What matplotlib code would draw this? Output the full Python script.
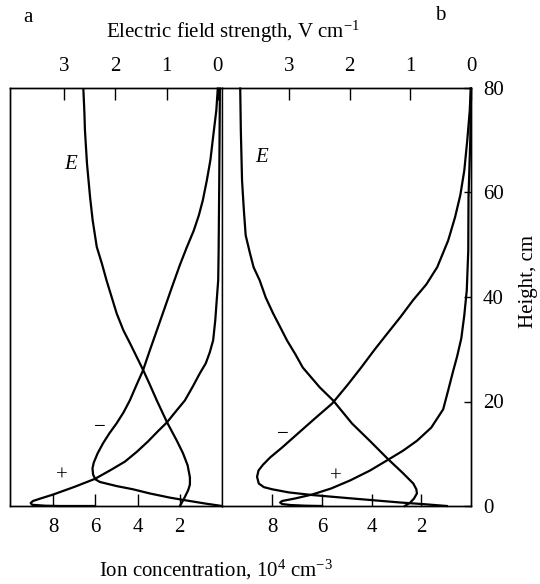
import matplotlib.pyplot as plt

plt.rcParams['font.family'] = 'Liberation Serif'
plt.rcParams['mathtext.fontset'] = 'custom'
plt.rcParams['mathtext.rm'] = 'Liberation Serif'
plt.rcParams['mathtext.it'] = 'Liberation Serif:italic'
plt.rcParams['font.size'] = 15

# panel a -- field strength (V/cm) vs height (cm)
a_field = [2.62, 2.60, 2.59, 2.57, 2.55, 2.52, 2.49, 2.44, 2.36, 2.26, 2.17, 2.07, 1.97, 1.84, 1.71, 1.58,
           1.45, 1.32, 1.19, 0.99, 0.80, 0.68, 0.59, 0.545, 0.545, 0.58, 0.66, 0.74]
a_field_h = [79.6, 75.1, 71.9, 68.7, 65.5, 62.3, 59.1, 54.7, 49.6, 46.4, 43.2, 40.0, 36.8, 33.6, 31.1, 28.5,
             25.9, 23.1, 20.2, 16.0, 12.5, 10.1, 7.8, 5.5, 4.1, 3.0, 1.4, 0.0]
# panel a -- negative ions (1e4 cm^-3)
a_neg = [0.20, 0.27, 0.44, 0.55, 0.72, 0.91, 1.10, 1.34, 1.67, 2.00, 2.38, 2.76, 3.09, 3.42, 3.75, 4.06,
         4.37, 4.67, 5.00, 5.34, 5.64, 5.90, 6.08, 6.14, 6.11, 6.00, 5.79, 4.98, 4.22, 3.42, 2.47, 1.67, 0.81, 0.0]
a_neg_h = [79.9, 75.7, 70.0, 66.2, 62.3, 58.5, 55.6, 52.7, 49.5, 46.1, 41.8, 37.4, 33.6, 29.8, 25.9, 23.1,
           20.2, 17.9, 15.8, 13.9, 12.0, 10.05, 8.3, 7.2, 6.0, 5.1, 4.6, 3.8, 3.2, 2.4, 1.6, 1.05, 0.48, 0.0]
# panel a -- positive ions
a_pos = [0.10, 0.13, 0.16, 0.18, 0.25, 0.32, 0.42, 0.58, 0.77, 1.05, 1.38, 1.76, 2.19, 2.61, 3.04, 3.51,
         4.03, 4.60, 5.27, 6.02, 6.97, 8.00, 8.63, 8.96, 9.07, 9.00, 8.39, 7.68, 6.02]
a_pos_h = [79.9, 62.3, 48.9, 43.2, 39.4, 35.5, 31.7, 29.4, 27.3, 25.4, 22.9, 20.2, 18.1, 16.0, 14.3, 12.35,
           10.4, 8.5, 6.9, 5.2, 3.7, 2.2, 1.4, 0.96, 0.57, 0.23, 0.06, 0.0, 0.0]

# panel b
b_field = [3.80, 3.79, 3.77, 3.74, 3.71, 3.64, 3.58, 3.48, 3.38, 3.26, 3.14, 3.03, 2.89, 2.77, 2.63, 2.49,
           2.27, 1.96, 1.66, 1.36, 1.13, 0.95, 0.90, 0.89, 0.94, 1.00, 1.09]
b_field_h = [79.9, 71.9, 62.3, 56.6, 51.8, 48.4, 45.7, 43.2, 39.9, 36.9, 34.2, 31.7, 29.0, 26.5, 24.6, 22.7,
             20.2, 15.8, 12.4, 8.9, 6.4, 4.3, 3.2, 2.4, 1.4, 0.67, 0.0]
b_neg = [0.01, 0.05, 0.15, 0.27, 0.43, 0.64, 0.92, 1.36, 1.80, 2.33, 2.85, 3.37, 3.90, 4.42, 4.98, 5.59,
         6.27, 6.96, 7.60, 8.08, 8.37, 8.55, 8.61, 8.54, 8.33, 8.00, 7.33, 6.39, 4.78, 2.85, 1.84, 0.97]
b_neg_h = [79.9, 75.7, 70.0, 64.2, 59.5, 55.3, 50.8, 45.7, 42.4, 39.4, 36.1, 33.0, 29.8, 26.5, 23.1, 19.6,
           16.8, 13.9, 11.2, 9.3, 7.9, 6.8, 5.6, 4.3, 3.6, 3.2, 2.6, 2.1, 1.44, 0.67, 0.33, 0.0]
b_pos = [0.0, 0.03, 0.10, 0.11, 0.17, 0.27, 0.39, 0.56, 0.72, 0.92, 1.12, 1.60, 2.17, 2.73, 3.32, 4.06,
         4.86, 5.63, 6.39, 7.08, 7.60, 7.68, 7.60, 7.28, 6.67, 5.99]
b_pos_h = [79.9, 70.0, 59.1, 48.9, 41.3, 36.5, 32.1, 28.6, 25.8, 22.1, 18.5, 15.0, 12.5, 10.6, 8.9, 6.8,
           4.9, 3.35, 2.2, 1.44, 0.96, 0.67, 0.38, 0.19, 0.06, 0.0]

field_ticks = [3, 2, 1, 0]
conc_ticks = [8, 6, 4, 2]
height_ticks = [0, 20, 40, 60, 80]

W, H = 540, 584
fig = plt.figure(figsize=(W / 100, H / 100), dpi=100)
axA = fig.add_axes([10 / W, 78 / H, 212 / W, 418 / H])
axB = fig.add_axes([222 / W, 78 / H, 249 / W, 418 / H])

lw = 1.6
for ax, xl in ((axA, (10.05, 0)), (axB, (10.02, 0))):
    ax.set_xlim(*xl)
    ax.set_ylim(0, 80)
    ax.set_xticks(conc_ticks)
    ax.tick_params(axis='x', direction='in', length=8.6, width=1, pad=8.5, labelsize=15)
    for s in ax.spines.values():
        s.set_linewidth(1.0)

axA.set_yticks([])
axB.spines['left'].set_visible(False)
axB.yaxis.tick_right()
axB.set_yticks(height_ticks)
axB.tick_params(axis='y', direction='in', length=5, width=1, pad=8.5, labelsize=15)

topA = axA.twiny()
topA.set_xlim(4.05, -0.08)
topB = axB.twiny()
topB.set_xlim(4.1, 0)
topB.spines['left'].set_visible(False)
for t in (topA, topB):
    t.set_xticks(field_ticks)
    t.tick_params(axis='x', direction='in', length=8.6, width=1, pad=8.5, labelsize=15)
    for s in t.spines.values():
        s.set_linewidth(1.0)

axA.plot(a_neg, a_neg_h, color='black', lw=lw, clip_on=False)
axA.plot(a_pos, a_pos_h, color='black', lw=lw, clip_on=False)
topA.plot(a_field, a_field_h, color='black', lw=lw, clip_on=False)
axB.plot(b_neg, b_neg_h, color='black', lw=lw, clip_on=False)
axB.plot(b_pos, b_pos_h, color='black', lw=lw, clip_on=False)
topB.plot(b_field, b_field_h, color='black', lw=lw, clip_on=False)

axA.text(7.16, 65.4, 'E', style='italic', ha='center', va='center', fontsize=15)
axA.text(5.81, 15.0, '\u2212', ha='center', va='center', fontsize=15)
axA.text(7.6, 5.75, '+', ha='center', va='center', fontsize=15)
axB.text(8.42, 66.7, 'E', style='italic', ha='center', va='center', fontsize=15)
axB.text(7.58, 13.7, '\u2212', ha='center', va='center', fontsize=15)
axB.text(5.45, 5.55, '+', ha='center', va='center', fontsize=15)

fig.text(28 / W, 1 - 17 / H, 'a', ha='center', va='center', fontsize=15)
fig.text(440 / W, 1 - 16 / H, 'b', ha='center', va='center', fontsize=15)
fig.text(233 / W, 1 - 32 / H, 'Electric field strength, V cm$^{-1}$', ha='center', va='center', fontsize=15)
fig.text(216 / W, 1 - 570 / H, 'Ion concentration, $10^4$ cm$^{-3}$', ha='center', va='center', fontsize=15)
fig.text(529 / W, 1 - 281 / H, 'Height, cm', rotation=90, ha='center', va='center', fontsize=15)

fig.savefig('out.png', dpi=100)
